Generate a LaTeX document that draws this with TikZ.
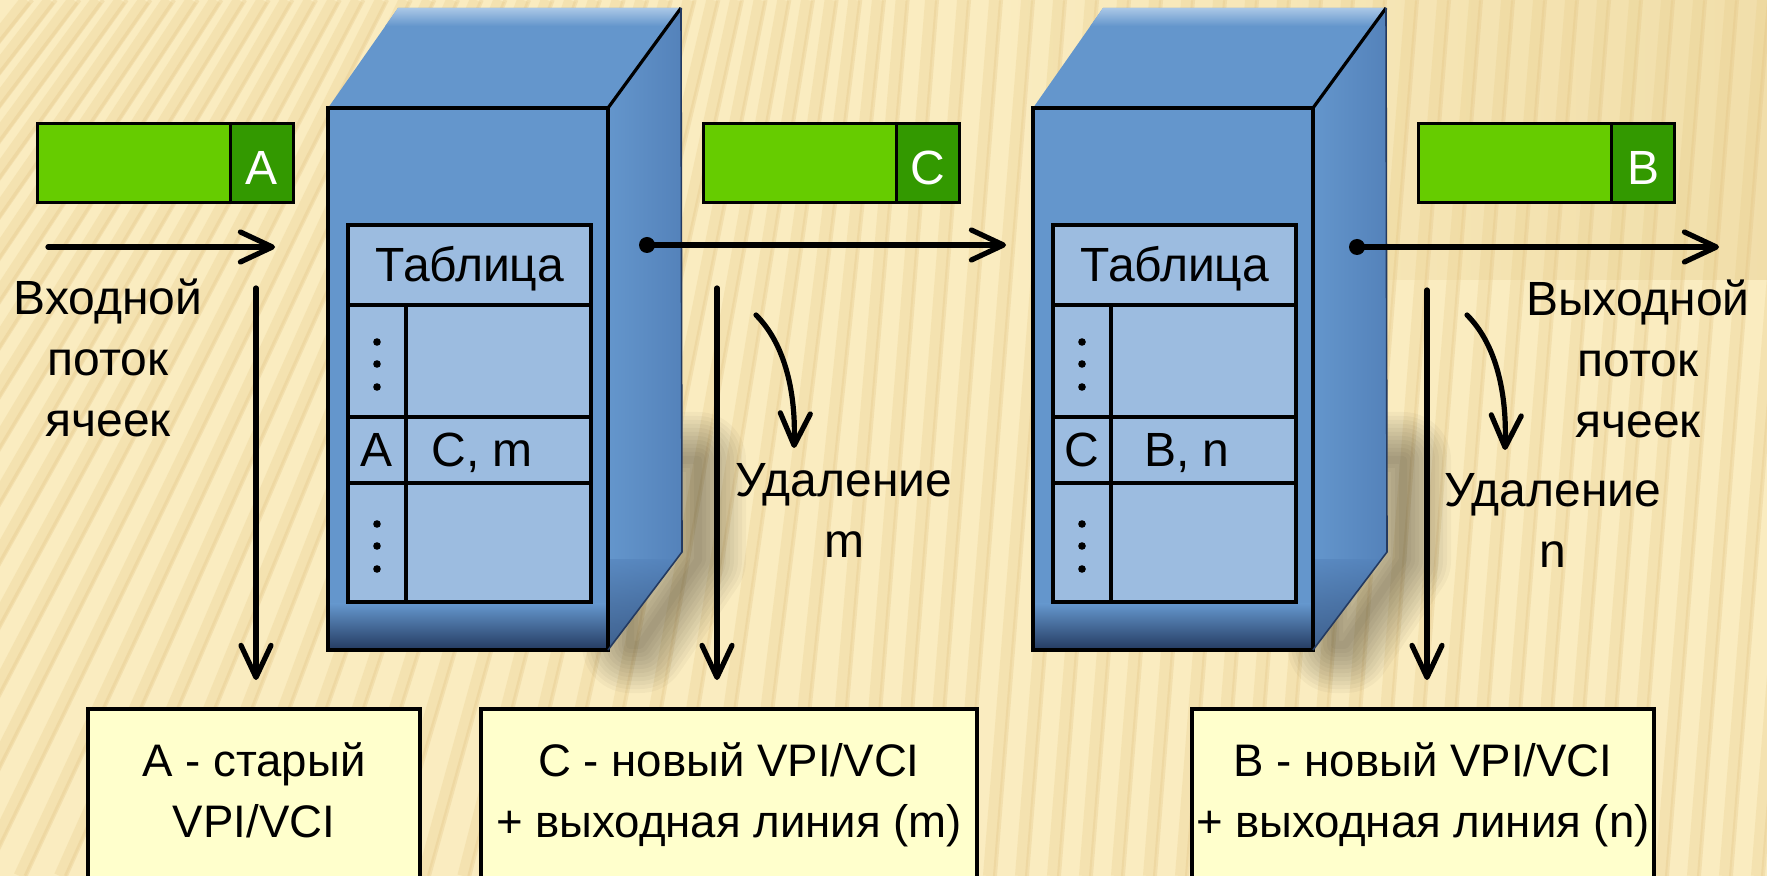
\documentclass[tikz,border=0pt]{standalone}
\usepackage{fontspec}
\setmainfont{Liberation Sans}
\usetikzlibrary{arrows.meta}

\definecolor{bgcream}{RGB}{250,236,192}
\definecolor{bgstripe}{RGB}{232,206,140}
\definecolor{bgtan}{RGB}{236,214,156}
\definecolor{cubeblue}{RGB}{100,150,204}
\definecolor{cubelight}{RGB}{178,205,233}
\definecolor{cubeside}{RGB}{84,130,186}
\definecolor{cubedark}{RGB}{36,58,96}
\definecolor{tablefill}{RGB}{156,188,224}
\definecolor{cellgreen}{RGB}{102,204,0}
\definecolor{celldark}{RGB}{51,153,0}
\definecolor{notefill}{RGB}{255,255,204}

\tikzset{
  flow/.style={line width=2.6pt, line cap=round,
    -{Straight Barb[length=16pt,width=15pt,round]}},
  txt/.style={inner sep=0pt, anchor=base, align=center},
  notetext/.style={txt, font=\fontsize{22.8}{30.5}\selectfont},
  tabtext/.style={inner sep=0pt, anchor=base},
  tabline/.style={draw=black, line width=1.6pt},
  cellbody/.style={fill=cellgreen, draw=black, line width=1.5pt,
    anchor=north west, inner sep=0pt, minimum width=96.5pt, minimum height=39.5pt},
  cellhead/.style={fill=celldark, draw=black, line width=1.5pt,
    anchor=north west, inner sep=0pt, minimum width=31.5pt, minimum height=39.5pt},
  celltext/.style={inner sep=0pt, text=white},
  notebox/.style={fill=notefill, draw=black, line width=1.6pt},
  stripewide/.style={bgstripe, line width=6pt, opacity=0.30},
  stripethin/.style={bgstripe!80!brown, line width=2pt, opacity=0.27},
}

% one switch: cube with its routing table
% #1 horizontal offset, #2 name prefix, #3 key, #4 value
\newcommand\drawswitch[4]{%
\begin{scope}[shift={(#1,0)}]
  % soft shadow behind the cube
  \foreach \w in {48,44,...,4}{
    \draw[black, opacity=0.03, line width=\w pt, line join=round]
      (630,460) -- (698,460) -- (698,560) -- (640,645) -- (630,645) -- cycle;}
  % top face
  \fill[cubeblue] (328,108) -- (398,8) -- (681,8) -- (608,108) -- cycle;
  \begin{scope}
    \clip (328,108) -- (398,8) -- (681,8) -- (608,108) -- cycle;
    \shade[top color=cubelight, bottom color=cubeblue] (320,6) rectangle (690,26);
  \end{scope}
  % side face
  \shade[left color=cubeblue, right color=cubeside]
    (608,108) -- (681,8) -- (682,552) -- (608,650) -- cycle;
  \begin{scope}
    \clip (608,108) -- (681,8) -- (682,552) -- (608,650) -- cycle;
    \shade[top color=cubeside, bottom color=cubedark, opacity=0.6] (600,560) rectangle (690,655);
  \end{scope}
  % front face
  \fill[cubeblue] (328,108) rectangle (608,650);
  \shade[top color=cubeblue, bottom color=cubedark] (328,604) rectangle (608,650);
  \draw[line width=1.6pt] (328,108) rectangle (608,650);
  \draw[line width=1.6pt] (608,108) -- (681,8);
  \draw[cubedark, line width=0.8pt] (681,8) -- (682,552) -- (608,650);
  % routing table
  \fill[tablefill] (348,225) rectangle (591,602);
  \draw[tabline] (348,225) rectangle (591,602)
    (348,305) -- (591,305) (348,417) -- (591,417) (348,483) -- (591,483)
    (406,305) -- (406,602);
  \node[tabtext] (#2-title) at (470,282) {Таблица};
  \node[tabtext] (#2-key) at (377,467) {#3};
  \node[tabtext] (#2-val) at (482,467) {#4};
  \foreach \yy in {342,364,387,524,546,569}
    \fill (377,\yy) circle[radius=3.8];
\end{scope}}

\begin{document}
\begin{tikzpicture}[x=0.5pt,y=-0.5pt,font=\fontsize{24}{30.5}\selectfont]
\useasboundingbox (0,0) rectangle (1767,876);
\clip (0,0) rectangle (1767,876);

% striped cream backdrop
\fill[bgcream] (0,0) rectangle (1767,876);
\shade[left color=bgcream, right color=bgtan, opacity=0.6] (1000,0) rectangle (1767,280);
\foreach \m in {-320,-288,...,2000}{
  \pgfmathsetmacro\s{max(0.08,0.6-0.0006*\m)}
  \draw[stripewide] (\m-\s*438,876) -- (\m+\s*438,0);
  \draw[stripethin] (\m-\s*438+6,876) -- (\m+\s*438+6,0);
}

% the two switches
\drawswitch{0}{swA}{A}{C, m}
\drawswitch{705}{swB}{C}{B, n}

% cells on the links
\node[cellbody] (cellA) at (36,122) {};
\node[cellhead] (cellAh) at (229,122) {};
\node[celltext] at ([yshift=-2.5pt]cellAh.center) {A};
\node[cellbody] (cellC) at (702,122) {};
\node[cellhead] (cellCh) at (895,122) {};
\node[celltext] at ([yshift=-2.5pt]cellCh.center) {C};
\node[cellbody] (cellB) at (1417,122) {};
\node[cellhead] (cellBh) at (1610,122) {};
\node[celltext] at ([yshift=-2.5pt]cellBh.center) {B};

% link arrows
\coordinate (inS) at (48,247);
\coordinate (inE) at (275,247);
\coordinate (midS) at (647,245);
\coordinate (midE) at (1006,245);
\coordinate (outS) at (1357,247);
\coordinate (outE) at (1719,247);
\draw[flow] (inS) -- (inE);
\fill (midS) circle[radius=8];
\draw[flow] (midS) -- (midE);
\fill (outS) circle[radius=8];
\draw[flow] (outS) -- (outE);

% vertical arrows to the notes
\coordinate (dA1) at (256,288);
\coordinate (dA2) at (256,680);
\coordinate (dB1) at (717,288);
\coordinate (dB2) at (717,680);
\coordinate (dC1) at (1427,290);
\coordinate (dC2) at (1427,680);
\draw[flow] (dA1) -- (dA2);
\draw[flow] (dB1) -- (dB2);
\draw[flow] (dC1) -- (dC2);

% removal arrows
\coordinate (rmS) at (756,315);
\coordinate (rmE) at (794,448);
\coordinate (rnS) at (1467,315);
\coordinate (rnE) at (1505,450);
\draw[flow] (rmS) .. controls (786,345) and (796,395) .. (rmE);
\draw[flow] (rnS) .. controls (1497,345) and (1507,395) .. (rnE);

% labels (anchored at the baseline of their last line)
\node[txt] (inLbl) at (108,437) {Входной\\поток\\ячеек};
\node[txt] (outLbl) at (1638,438) {Выходной\\поток\\ячеек};
\node[txt] (rmLbl) at (844,558) {Удаление\\m};
\node[txt] (rnLbl) at (1553,568) {Удаление\\n};

% notes at the bottom
\draw[notebox] (88,709) rectangle (420,900);
\draw[notebox] (481,709) rectangle (977,900);
\draw[notebox] (1192,709) rectangle (1654,900);
\node[notetext] (noteA) at (254,837) {А - старый\\VPI/VCI};
\node[notetext] (noteC) at (729,837) {С - новый VPI/VCI\\+ выходная линия (m)};
\node[notetext] (noteB) at (1423,837) {В - новый VPI/VCI\\+ выходная линия (n)};
\end{tikzpicture}
\end{document}
